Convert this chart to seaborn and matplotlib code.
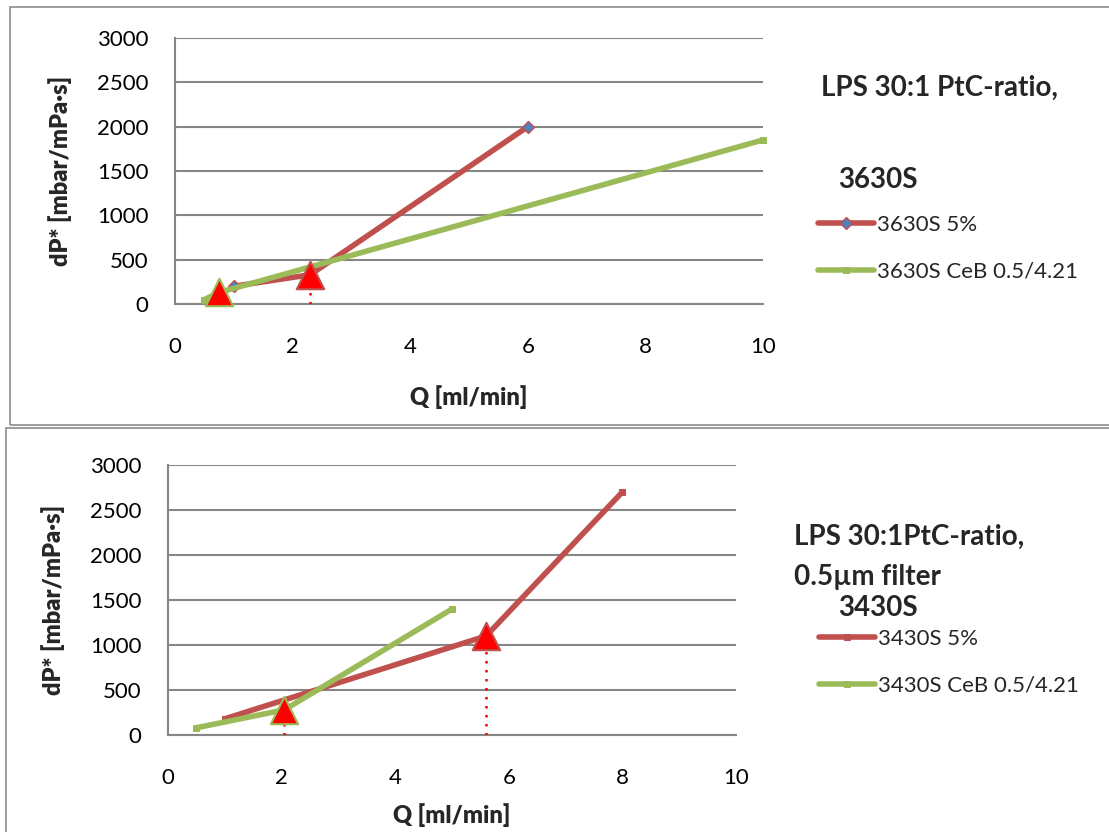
import matplotlib
matplotlib.use("Agg")
import matplotlib.pyplot as plt
from matplotlib.patches import Rectangle
import seaborn as sns

# --- data -------------------------------------------------------------
xticks = [0, 2, 4, 6, 8, 10]
yticks = [0, 500, 1000, 1500, 2000, 2500, 3000]

# upper chart: 3630S
q_3630_5 = [1.0, 2.3, 6.0]
dp_3630_5 = [200, 330, 2000]
q_3630_ceb = [0.5, 0.75, 10.0]
dp_3630_ceb = [50, 130, 1850]
tri_q_3630 = [0.75, 2.3]
tri_dp_3630 = [130, 330]

# lower chart: 3430S
q_3430_5 = [1.0, 5.6, 8.0]
dp_3430_5 = [180, 1100, 2700]
q_3430_ceb = [0.5, 2.05, 5.0]
dp_3430_ceb = [80, 280, 1400]
tri_q_3430 = [2.05, 5.6]
tri_dp_3430 = [280, 1100]

RED = "#C0504D"
GREEN = "#9BBB59"
BLUE = "#4F81BD"
GRID = "#868686"

sns.set_theme(style="white")
plt.rcParams["font.family"] = ["Lato", "DejaVu Sans"]

W, H = 1109, 832
fig = plt.figure(figsize=(W / 100, H / 100), dpi=100)


def fx(px):
    return px / W


def fy(py):
    return 1 - py / H


# chart frames
fig.add_artist(Rectangle((fx(10), fy(425)), 1.2, 418 / H, transform=fig.transFigure,
                         fill=False, edgecolor="#8C8C8C", lw=1.2))
fig.add_artist(Rectangle((fx(6), -0.2), 1.2, fy(428) + 0.2, transform=fig.transFigure,
                         fill=False, edgecolor="#8C8C8C", lw=1.2))


def style_axes(ax):
    ax.set_xlim(0, 10)
    ax.set_ylim(0, 3000)
    ax.set_xticks(xticks)
    ax.set_yticks(yticks)
    ax.yaxis.grid(True, color=GRID, lw=1.5)
    ax.xaxis.grid(False)
    for s in ("top", "right"):
        ax.spines[s].set_visible(False)
    for s in ("left", "bottom"):
        ax.spines[s].set_color(GRID)
        ax.spines[s].set_linewidth(1.5)
    ax.tick_params(axis="both", length=0, labelsize=16, colors="black")
    ax.tick_params(axis="y", pad=19)
    ax.tick_params(axis="x", pad=24)
    ax.set_xlabel("")
    ax.set_ylabel("")
    ax.set_facecolor("none")


def axis_titles(ylab_x, ylab_y, xlab_x, xlab_y):
    fig.text(fx(ylab_x), fy(ylab_y), "dP* [mbar/mPa·s]", fontsize=17, fontweight="heavy",
             rotation=90, ha="center", va="center")
    fig.text(fx(xlab_x), fy(xlab_y), "Q [ml/min]", fontsize=17, fontweight="heavy",
             ha="center", va="center")


def draw_triangles(ax, qs, dps, edges):
    ax.vlines(qs, 0, dps, colors="#FF0000", linestyles=(0, (1, 2.6)), lw=1.8, zorder=4)
    for q, dp, ec in zip(qs, dps, edges):
        sns.scatterplot(x=[q], y=[dp], ax=ax, marker="^", s=390, color="#FF0000",
                        edgecolor=ec, linewidth=1.5, zorder=6, clip_on=False, legend=False)


LEG = dict(frameon=False, fontsize=16, borderpad=0, borderaxespad=0, handlelength=2.5,
           handletextpad=0.15, labelspacing=1.2, loc="center left")

# ---- upper chart ----
ax1 = fig.add_axes([fx(175), fy(304), 588 / W, 266 / H])
sns.lineplot(x=q_3630_5, y=dp_3630_5, ax=ax1, color=RED, lw=4, marker="D",
             markersize=6, markerfacecolor=BLUE, markeredgecolor=RED, markeredgewidth=1,
             solid_capstyle="round", label="3630S 5%", zorder=3, clip_on=False)
sns.lineplot(x=q_3630_ceb, y=dp_3630_ceb, ax=ax1, color=GREEN, lw=4, marker="s",
             markersize=5, markerfacecolor=GREEN, markeredgecolor=GREEN,
             solid_capstyle="round", label="3630S CeB 0.5/4.21", zorder=3, clip_on=False)
draw_triangles(ax1, tri_q_3630, tri_dp_3630, [GREEN, RED])
style_axes(ax1)
axis_titles(60, 171, 469, 397)
ax1.legend(bbox_to_anchor=(fx(818), fy(248)), bbox_transform=fig.transFigure, **LEG)
fig.text(fx(821), fy(88), "LPS 30:1 PtC-ratio,", fontsize=20, fontweight="bold",
         ha="left", va="center")
fig.text(fx(838), fy(180), "3630S", fontsize=20, fontweight="bold", ha="left", va="center")

# ---- lower chart ----
ax2 = fig.add_axes([fx(168), fy(735), 568 / W, 270 / H])
sns.lineplot(x=q_3430_5, y=dp_3430_5, ax=ax2, color=RED, lw=4, marker="s",
             markersize=5, markerfacecolor=RED, markeredgecolor=RED,
             solid_capstyle="round", label="3430S 5%", zorder=3, clip_on=False)
sns.lineplot(x=q_3430_ceb, y=dp_3430_ceb, ax=ax2, color=GREEN, lw=4, marker="s",
             markersize=5, markerfacecolor=GREEN, markeredgecolor=GREEN,
             solid_capstyle="round", label="3430S CeB 0.5/4.21", zorder=3, clip_on=False)
draw_triangles(ax2, tri_q_3430, tri_dp_3430, [GREEN, RED])
style_axes(ax2)
axis_titles(53, 600, 452, 815)
ax2.legend(bbox_to_anchor=(fx(819), fy(662)), bbox_transform=fig.transFigure, **LEG)
fig.text(fx(794), fy(537), "LPS 30:1PtC-ratio,", fontsize=20, fontweight="bold",
         ha="left", va="center")
fig.text(fx(794), fy(577), "0.5µm filter", fontsize=20, fontweight="bold",
         ha="left", va="center")
fig.text(fx(838), fy(608), "3430S", fontsize=20, fontweight="bold", ha="left", va="center")

fig.savefig("out.png", dpi=100, facecolor="white")
